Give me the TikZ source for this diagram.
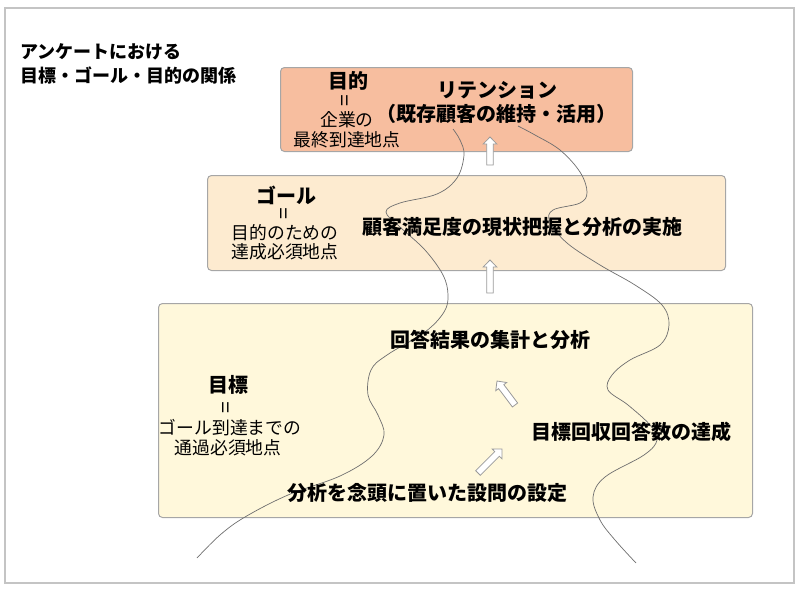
\documentclass[tikz,border=0pt]{standalone}
\usepackage{fontspec}
\setmainfont{Noto Sans CJK JP}
\definecolor{topfill}{HTML}{F7BE9F}
\definecolor{midfill}{HTML}{FDEBD0}
\definecolor{botfill}{HTML}{FFF8DB}
\definecolor{boxline}{HTML}{A6A6A6}
\definecolor{arrowline}{HTML}{9A9A9A}
\definecolor{frameline}{HTML}{C4C4C4}
\definecolor{curveline}{HTML}{6E6E6E}
\tikzset{
  box/.style={draw=boxline, line width=1pt, rounded corners=4pt, anchor=north west, inner sep=0pt},
  bigtxt/.style={font=\fontsize{20pt}{24pt}\selectfont\bfseries, inner sep=0pt},
  titletxt/.style={font=\fontsize{18pt}{22pt}\selectfont\bfseries, inner sep=0pt, anchor=west},
  smalltxt/.style={font=\fontsize{17.8pt}{20pt}\selectfont, inner sep=0pt},
  eqtxt/.style={font=\fontsize{21pt}{24pt}\selectfont, inner sep=0pt, rotate=90},
  blockarrow/.style={draw=arrowline, fill=white, line width=0.8pt, line join=miter},
  curve/.style={draw=curveline, line width=0.7pt}
}
\begin{document}
\begin{tikzpicture}[x=1pt, y=-1pt]
\useasboundingbox (0,0) rectangle (800,589);
\draw[frameline, line width=1.5pt] (5,8) rectangle (794,583);
% title
\node[titletxt] (t1) at (20,52) {アンケートにおける};
\node[titletxt] (t2) at (20,75) {目標・ゴール・目的の関係};
% boxes
\node[box, fill=topfill, minimum width=352pt, minimum height=84pt] (topbox) at (280,67) {};
\node[box, fill=midfill, minimum width=518pt, minimum height=95pt] (midbox) at (207,175) {};
\node[box, fill=botfill, minimum width=594pt, minimum height=214pt] (botbox) at (158,303) {};
% block arrows (drawn along +x, then rotated)
\draw[blockarrow, shift={(490,151)}, rotate=90] (-14,-3.3) -- (7,-3.3) -- (7,-6.8) -- (14,0) -- (7,6.8) -- (7,3.3) -- (-14,3.3) -- cycle;
\draw[blockarrow, shift={(490,276.5)}, rotate=90] (-16.5,-3.3) -- (9.5,-3.3) -- (9.5,-6.8) -- (16.5,0) -- (9.5,6.8) -- (9.5,3.3) -- (-16.5,3.3) -- cycle;
\draw[blockarrow, shift={(506,393)}, rotate=126.9] (-15,-3.3) -- (8,-3.3) -- (8,-6.8) -- (15,0) -- (8,6.8) -- (8,3.3) -- (-15,3.3) -- cycle;
\draw[blockarrow, shift={(490,461)}, rotate=45] (-17,-3.3) -- (10,-3.3) -- (10,-6.8) -- (17,0) -- (10,6.8) -- (10,3.3) -- (-17,3.3) -- cycle;
% curves
\draw[curve] plot[smooth, tension=0.6] coordinates {(197,558) (220,535) (245,517) (288,495) (340,476) (372,456) (384,435) (378,415) (368,395) (371,370) (387,355) (425,332) (444,312) (448,295) (443,275) (425,250) (400,227) (386,212) (400,203) (437,194) (457,178) (464,155) (460,140) (453,129)};
\draw[curve] plot[smooth, tension=0.6] coordinates {(636,563) (615,540) (600,520) (593,497) (605,477) (644,455) (657,440) (650,425) (628,405) (608,390) (612,375) (630,360) (660,345) (669,325) (662,305) (635,285) (600,265) (567,243) (550,222) (553,210) (580,203) (587,192) (580,172) (560,150) (535,135) (518,126)};
% top box texts
\node[bigtxt] (mokuteki) at (348,81) {目的};
\node[eqtxt] (eq1) at (347,101) {=};
\node[smalltxt] (k1) at (347,120) {企業の};
\node[smalltxt] (k2) at (347,140) {最終到達地点};
\node[bigtxt] (ret1) at (497,90) {リテンション};
\node[bigtxt] (ret2) at (496,114) {（既存顧客の維持・活用）};
% middle box texts
\node[bigtxt] (goal) at (286,195) {ゴール};
\node[eqtxt] (eq2) at (286,214) {=};
\node[smalltxt] (g1) at (285,233) {目的のための};
\node[smalltxt] (g2) at (285,252) {達成必須地点};
\node[bigtxt] (cs) at (522,227) {顧客満足度の現状把握と分析の実施};
% bottom box texts
\node[bigtxt] (res) at (490,340) {回答結果の集計と分析};
\node[bigtxt] (hyo) at (228,385) {目標};
\node[eqtxt] (eq3) at (228,408) {=};
\node[smalltxt] (h1) at (230,428) {ゴール到達までの};
\node[smalltxt] (h2) at (228,448) {通過必須地点};
\node[bigtxt] (kai) at (631,432) {目標回収回答数の達成};
\node[bigtxt] (set) at (427,493) {分析を念頭に置いた設問の設定};
\end{tikzpicture}
\end{document}
